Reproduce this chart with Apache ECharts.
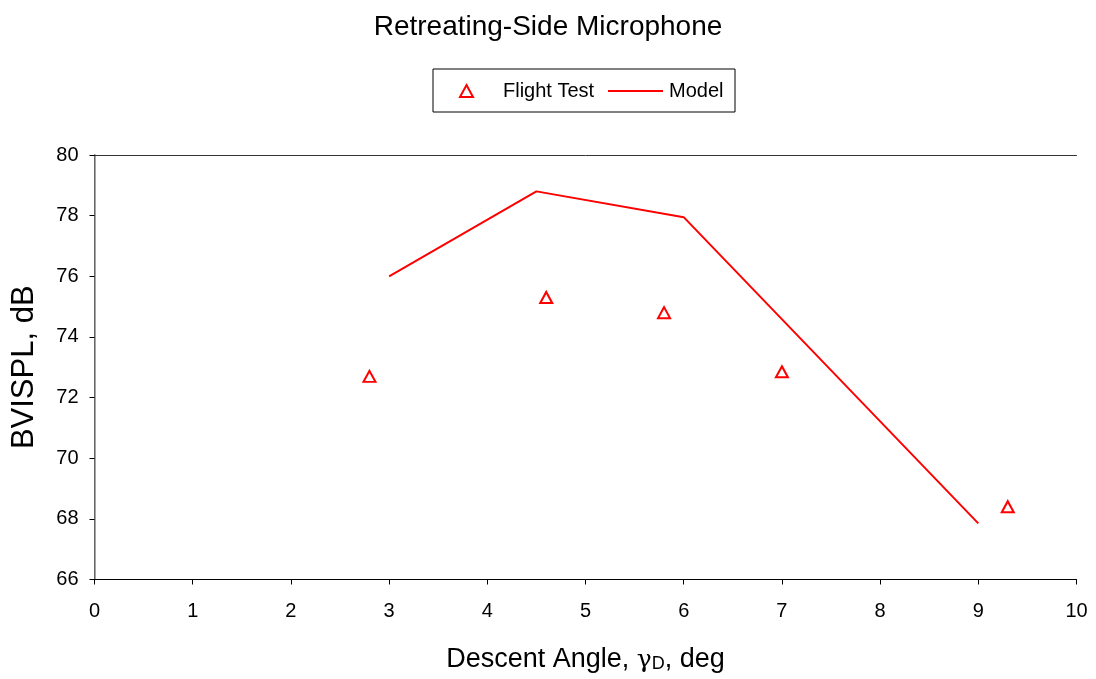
<!DOCTYPE html>
<html>
<head>
<meta charset="utf-8">
<script src="https://cdn.jsdelivr.net/npm/echarts@6/dist/echarts.min.js"></script>
<style>
html,body{margin:0;padding:0;background:#fff;}
#c{width:1096px;height:679px;}
</style>
</head>
<body>
<div id="c"></div>
<script>
const titleText = 'Retreating-Side Microphone';
const flightTestX = [2.8, 4.6, 5.8, 7.0, 9.3];
const flightTestY = [72.7, 75.3, 74.8, 72.85, 68.4];
const modelX = [3.0, 4.5, 6.0, 9.0];
const modelY = [76.0, 78.8, 77.95, 67.85];
const xTicks = [0, 1, 2, 3, 4, 5, 6, 7, 8, 9, 10];
const yTicks = [66, 68, 70, 72, 74, 76, 78, 80];

const font = 'Liberation Sans, Arial, Helvetica, sans-serif';
const chart = echarts.init(document.getElementById('c'), null, {renderer: 'canvas'});
const ftData = flightTestX.map((x, i) => [x, flightTestY[i]]);
const mData = modelX.map((x, i) => [x, modelY[i]]);

chart.setOption({
  backgroundColor: '#fff',
  animation: false,
  title: {
    text: titleText, left: 'center', top: 8,
    textStyle: {fontFamily: font, fontSize: 28, fontWeight: 'normal', color: '#000'}
  },
  graphic: [{
    type: 'rect', shape: {x: 433, y: 69, width: 302, height: 43},
    style: {fill: 'none', stroke: '#000', lineWidth: 1}, z: 0
  }],
  legend: [{
    left: 454, top: 76, itemWidth: 13, itemHeight: 12, itemGap: 10,
    textStyle: {fontFamily: font, fontSize: 20, color: '#000', padding: [0, 0, 0, 25]},
    data: [{name: 'Flight Test', icon: 'triangle'}]
  }, {
    left: 603, top: 76, itemWidth: 55, itemHeight: 2, itemGap: 10,
    textStyle: {fontFamily: font, fontSize: 20, color: '#000', padding: [0, 0, 0, 1]},
    data: [{name: 'Model', icon: 'rect', itemStyle: {color: '#ff0000', borderWidth: 0}}]
  }],
  grid: {left: 94.5, right: 19.5, top: 155, bottom: 99.5, outerBoundsMode: 'none', containLabel: false},
  xAxis: [{
    type: 'value', min: xTicks[0], max: xTicks[xTicks.length - 1], interval: 1,
    name: 'Descent Angle, {g|γ}{s|D}, deg', nameLocation: 'middle', nameGap: 67,
    nameTextStyle: {fontFamily: font, fontSize: 27, color: '#000',
      rich: {g: {fontFamily: 'DejaVu Serif, serif', fontSize: 25, color: '#000'},
             s: {fontFamily: font, fontSize: 18, color: '#000', verticalAlign: 'bottom', padding: [8, 0, 0, 0]}}},
    axisLine: {show: true, lineStyle: {color: '#000', width: 1}},
    axisTick: {show: true, inside: false, length: 5, lineStyle: {color: '#000'}},
    axisLabel: {fontFamily: font, fontSize: 20, color: '#000', margin: 22},
    splitLine: {show: false}
  }, {
    type: 'value', position: 'top', min: 0, max: 10,
    axisLine: {show: true, lineStyle: {color: '#333', width: 1}},
    axisTick: {show: false}, axisLabel: {show: false}, splitLine: {show: false}
  }],
  yAxis: [{
    type: 'value', min: yTicks[0], max: yTicks[yTicks.length - 1], interval: 2,
    name: 'BVISPL, dB', nameLocation: 'middle', nameGap: 55, nameRotate: 90,
    nameTextStyle: {fontFamily: font, fontSize: 31, color: '#000'},
    axisLine: {show: true, lineStyle: {color: '#000', width: 1}},
    axisTick: {show: true, inside: false, length: 5, lineStyle: {color: '#000'}},
    axisLabel: {fontFamily: font, fontSize: 20, color: '#000', margin: 16},
    splitLine: {show: false}
  }, {
    type: 'value', position: 'right', min: 66, max: 80,
    axisLine: {show: true, lineStyle: {color: '#888', width: 1.5}},
    axisTick: {show: false}, axisLabel: {show: false}, splitLine: {show: false}
  }],
  series: [{
    name: 'Flight Test', type: 'scatter', data: ftData,
    xAxisIndex: 0, yAxisIndex: 0,
    symbol: 'triangle', symbolSize: [12, 11],
    itemStyle: {color: '#fff', borderColor: '#ff0000', borderWidth: 2, opacity: 1}
  }, {
    name: 'Model', type: 'line', data: mData,
    xAxisIndex: 0, yAxisIndex: 0,
    symbol: 'none', showSymbol: false,
    lineStyle: {color: '#ff0000', width: 2},
    itemStyle: {color: '#ff0000'}
  }]
});
</script>
</body>
</html>
